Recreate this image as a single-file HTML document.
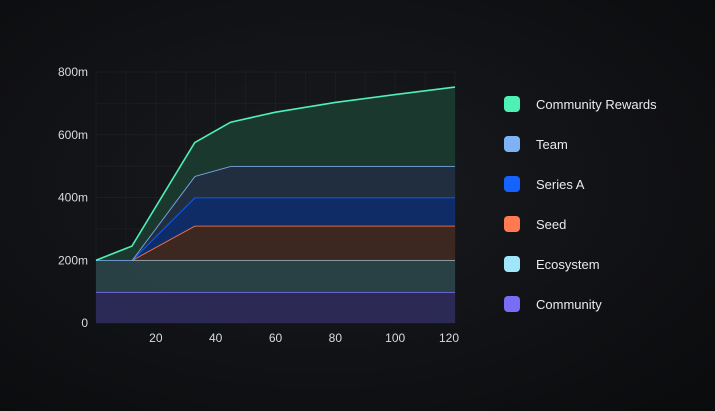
<!DOCTYPE html>
<html><head><meta charset="utf-8"><style>
body{margin:0;width:715px;height:411px;overflow:hidden;background:radial-gradient(ellipse at 45% 45%,#191b1f 0%,#111215 55%,#0a0b0d 100%);font-family:"Liberation Sans",sans-serif}
svg{position:absolute;left:0;top:0}
.leg{position:absolute;left:504px;display:flex;align-items:center;color:#e8eaee;font-size:13px}
.sw{width:16px;height:16px;border-radius:4px;margin-right:16px}
</style></head><body>
<svg width="715" height="411">
<g id="grid"></g><g id="areas"></g><g id="axes"></g>
</svg>
<div class="leg" style="top:96px"><div class="sw" style="background:#4ff0b5"></div>Community Rewards</div>
<div class="leg" style="top:136px"><div class="sw" style="background:#7fb2f5"></div>Team</div>
<div class="leg" style="top:176px"><div class="sw" style="background:#1563ff"></div>Series A</div>
<div class="leg" style="top:216px"><div class="sw" style="background:#ff7a50"></div>Seed</div>
<div class="leg" style="top:256px"><div class="sw" style="background:#a0e6fa"></div>Ecosystem</div>
<div class="leg" style="top:296px"><div class="sw" style="background:#7b6cf5"></div>Community</div>
<script>
const months=[0,12,33,45,60,80,100,120];
const community=[98,98,98,98,98,98,98,98];
const ecosystem=[102,102,102,102,102,102,102,102];
const seed=[0,0,110,110,110,110,110,110];
const seriesA=[0,0,90,90,90,90,90,90];
const team=[0,0,68,100,100,100,100,100];
const rewards=[0,45,107,140,172,203,228,252];
const xTicks=[20,40,60,80,100,120];
const yTicks=[0,200,400,600,800];
const yLabels=["0","200m","400m","600m","800m"];
const NS="http://www.w3.org/2000/svg";
const X=v=>96+v*(455-96)/120, Y=v=>323-v*(323-72)/800;
function mk(t,a,p){const e=document.createElementNS(NS,t);for(const k in a)e.setAttribute(k,a[k]);p.appendChild(e);return e;}
const grid=document.getElementById('grid'),areas=document.getElementById('areas'),axes=document.getElementById('axes');
for(let m=0;m<=120;m+=10){const l=mk('line',{x1:X(m),x2:X(m),y1:72,y2:323,stroke:'#ffffff',"stroke-opacity":0.03},grid);
}
for(let v=0;v<=800;v+=100){const l=mk('line',{x1:96,x2:455,y1:Y(v),y2:Y(v),stroke:'#ffffff',"stroke-opacity":0.035},grid);
}
const series=[[community,'#7b6cf5','#2d2b58','community'],[ecosystem,'#9cbcc2','#2a4247','ecosystem'],[seed,'#ff7a50','#3e2822','seed'],[seriesA,'#1563ff','#0f2d6c','series-a'],[team,'#7fb2f5','#222f42','team'],[rewards,'#4ff0b5','#1b3a2f','community-rewards']];
let base=months.map(()=>0);
series.forEach(([d,lc,fc,n])=>{
 const top=base.map((b,i)=>b+d[i]);
 const up=months.map((m,i)=>X(m)+','+Y(top[i]));
 const dn=months.map((m,i)=>X(m)+','+Y(base[i])).reverse();
 const a=mk('polygon',{points:up.concat(dn).join(' '),fill:fc,"fill-opacity":0.95},areas);
 
 const l=mk('polyline',{points:up.join(' '),fill:'none',stroke:lc,"stroke-width":1.6},areas);
 
 base=top;});
xTicks.forEach(t=>{const e=mk('text',{x:t==120?X(t)-6:X(t),y:342,fill:'#d8dade',"font-size":12,"text-anchor":'middle'},axes);e.textContent=t;
});
yTicks.forEach((t,i)=>{const e=mk('text',{x:88,y:Y(t)+4,fill:'#d8dade',"font-size":12,"text-anchor":'end'},axes);e.textContent=yLabels[i];
});
</script>
</body></html>
